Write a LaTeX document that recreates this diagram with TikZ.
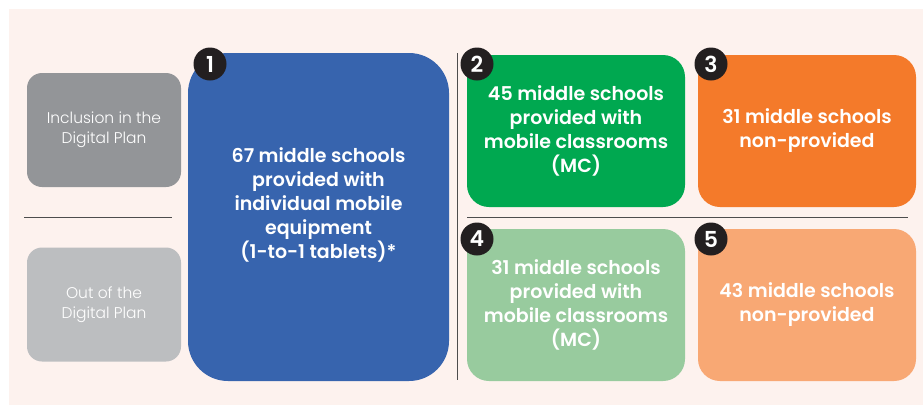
\documentclass[tikz,border=0pt]{standalone}
\usepackage{fontspec}
\setmainfont{Poppins}[BoldFont={Poppins SemiBold}]
\newfontfamily\lightfont{Poppins Light}
\usepackage{tikz}

\definecolor{paper}{HTML}{FDF2EE}
\definecolor{greyin}{HTML}{939598}
\definecolor{greyout}{HTML}{BCBEC0}
\definecolor{tabblue}{HTML}{3764AE}
\definecolor{mcgreen}{HTML}{00A850}
\definecolor{nporange}{HTML}{F47A2A}
\definecolor{mcgreenlt}{HTML}{98CB9E}
\definecolor{nporangelt}{HTML}{F8A874}
\definecolor{badgeblack}{HTML}{231F20}
\definecolor{ruleline}{HTML}{4D4D4D}

\tikzset{
  planbox/.style = {rectangle, rounded corners = 15pt,
      text = white, align = center,
      minimum width = 154pt, minimum height = 114pt,
      font = \lightfont\fontsize{15.5}{20}\selectfont},
  groupbox/.style = {rectangle, rounded corners = 22pt,
      text = white, align = center,
      minimum width = 218pt, minimum height = 152pt,
      font = \bfseries\fontsize{19}{24}\selectfont},
  badge/.style = {circle, fill = badgeblack, text = white,
      minimum size = 33pt, inner sep = 0pt,
      font = \bfseries\fontsize{22}{22}\selectfont},
  divider/.style = {ruleline, line width = 0.8pt}
}

\begin{document}
\begin{tikzpicture}[x=1pt, y=-1pt]
  \useasboundingbox (0,0) rectangle (923,405);
  \fill[paper] (9,9) rectangle (923,405);

% digital plan labels
  \node[planbox, fill = greyin] (inplan) at (104,130)
      {Inclusion in the\\Digital Plan};
  \node[planbox, fill = greyout] (outplan) at (104,304.5)
      {Out of the\\Digital Plan};

% tablets
  \node[groupbox, fill = tabblue, rounded corners = 40pt,
      minimum width = 261pt, minimum height = 328pt] (tablets) at (318.5,217) {};
  \node[text = white, align = center,
      font = \bfseries\fontsize{19}{24}\selectfont] (tabletstext) at (318.5,205)
      {67 middle schools\\provided with\\individual mobile\\equipment\\(1-to-1 tablets)*};

% mobile classrooms and non-provided
  \node[groupbox, fill = mcgreen] (mcin) at (576,131)
      {45 middle schools\\provided with\\mobile classrooms\\(MC)};
  \node[groupbox, fill = nporange] (npin) at (807,131)
      {31 middle schools\\non-provided};
  \node[groupbox, fill = mcgreenlt] (mcout) at (576,305)
      {31 middle schools\\provided with\\mobile classrooms\\(MC)};
  \node[groupbox, fill = nporangelt] (npout) at (807,305)
      {43 middle schools\\non-provided};

% numbers
  \node[badge] (b1) at (210,64) {1};
  \node[badge] (b2) at (477,64) {2};
  \node[badge] (b3) at (711,64) {3};
  \node[badge] (b4) at (477,239) {4};
  \node[badge] (b5) at (711,239) {5};

% separating lines
  \draw[divider] (24,217) -- (172,217);
  \draw[divider] (457,53) -- (457,380);
  \draw[divider] (467,217) -- (908,217);
\end{tikzpicture}
\end{document}
